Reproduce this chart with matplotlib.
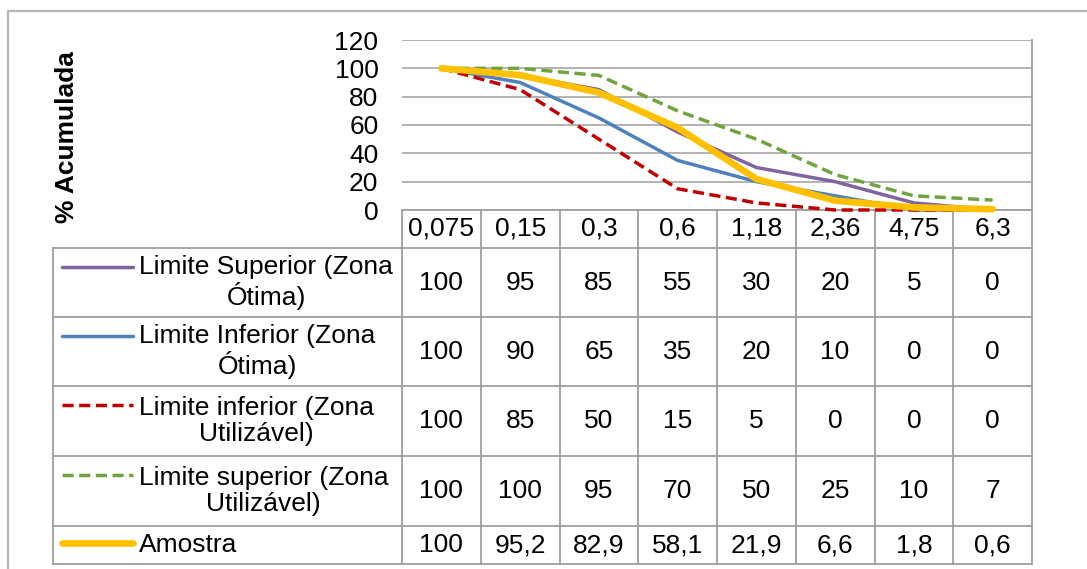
import matplotlib.pyplot as plt
import numpy as np

plt.rcParams['font.family'] = ['Liberation Sans', 'DejaVu Sans']

# sieve sizes (mm) and cumulative passing (%)
sieves = ['0,075', '0,15', '0,3', '0,6', '1,18', '2,36', '4,75', '6,3']
sup_otima = [100, 95, 85, 55, 30, 20, 5, 0]
inf_otima = [100, 90, 65, 35, 20, 10, 0, 0]
inf_util = [100, 85, 50, 15, 5, 0, 0, 0]
sup_util = [100, 100, 95, 70, 50, 25, 10, 7]
amostra = [100, 95.2, 82.9, 58.1, 21.9, 6.6, 1.8, 0.6]
amostra_txt = ['100', '95,2', '82,9', '58,1', '21,9', '6,6', '1,8', '0,6']

series = [
    ('Limite Superior (Zona\nÓtima)', sup_otima, '#8064A2', '-', 2.5),
    ('Limite Inferior (Zona\nÓtima)', inf_otima, '#4F81BD', '-', 2.5),
    ('Limite inferior (Zona\nUtilizável)', inf_util, '#C00000', '--', 2.5),
    ('Limite superior (Zona\nUtilizável)', sup_util, '#6FA43F', '--', 2.5),
    ('Amostra', amostra, '#FFC000', '-', 4.8),
]

W, H = 1087, 569
FS = 19
GRID = '#9E9E9E'

fig = plt.figure(figsize=(W / 100, H / 100), dpi=100)

# background axes in pixel coordinates for frame and data table
bg = fig.add_axes([0, 0, 1, 1])
bg.set_xlim(0, W)
bg.set_ylim(H, 0)
bg.axis('off')

# layout (pixels)
x_leg, x0, x1 = 53, 402, 1032
y_top, y_zero = 40, 210
rows = [248, 317, 386, 456, 526, 564]
n = len(sieves)
cw = (x1 - x0) / n

# outer chart frame
bg.plot([8, 8, W + 5], [H + 5, 11, 11], color='#B4B4B4', lw=1.6, clip_on=False)

# plot area line chart
ax = fig.add_axes([x0 / W, 1 - y_zero / H, (x1 - x0) / W, (y_zero - y_top) / H])
ax.patch.set_alpha(0)
ax.set_xlim(0, n)
ax.set_ylim(0, 120)
ax.set_yticks(np.arange(0, 121, 20))
ax.set_xticks([])
ax.tick_params(axis='y', length=0, pad=17, labelsize=FS)
for s in ax.spines.values():
    s.set_visible(False)
ax.yaxis.grid(True, color=GRID, lw=1.1)
ax.set_axisbelow(True)

bg.text(67, 137, '% Acumulada', rotation=90, ha='center', va='center',
        fontsize=FS, fontweight='bold')

xs = np.arange(n) + 0.5
for i, (lab, vals, col, ls, lw) in enumerate(series):
    line, = ax.plot(xs, vals, color=col, lw=lw, ls=ls, clip_on=False,
                    solid_capstyle='round', dash_capstyle='butt', zorder=3 + i)
    if ls == '--':
        line.set_dashes((3.2, 1.6))

# data table grid
lk = dict(color=GRID, lw=1.3, clip_on=False)
bg.plot([x1, x1], [y_top, rows[-1]], **lk)
bg.plot([x0, x1], [y_zero, y_zero], **lk)
for j in range(n):
    bg.plot([x0 + j * cw] * 2, [y_zero, rows[-1]], **lk)
bg.plot([x_leg, x_leg], [rows[0], rows[-1]], **lk)
for y in rows:
    bg.plot([x_leg, x1], [y, y], **lk)

# header (sieve sizes)
for j, s in enumerate(sieves):
    bg.text(x0 + (j + 0.5) * cw, 228, s, ha='center', va='center', fontsize=FS)

# rows: legend key + values
for r, (lab, vals, col, ls, lw) in enumerate(series):
    ya, yb = rows[r], rows[r + 1]
    yc = (ya + yb) / 2
    two = '\n' in lab
    yk = ya + 19 if two else yc - 2
    key, = bg.plot([62, 133], [yk, yk], color=col, lw=lw, ls=ls,
                   solid_capstyle='round')
    if ls == '--':
        key.set_dashes((3.2, 1.6))
    bg.text(139, yc, lab, ha='left', va='center', multialignment='center',
            fontsize=FS, linespacing=1.15)
    txt = amostra_txt if lab == 'Amostra' else [str(v) for v in vals]
    for j, t in enumerate(txt):
        bg.text(x0 + (j + 0.5) * cw, yc, t, ha='center', va='center', fontsize=FS)

fig.savefig('out.png', dpi=100)
